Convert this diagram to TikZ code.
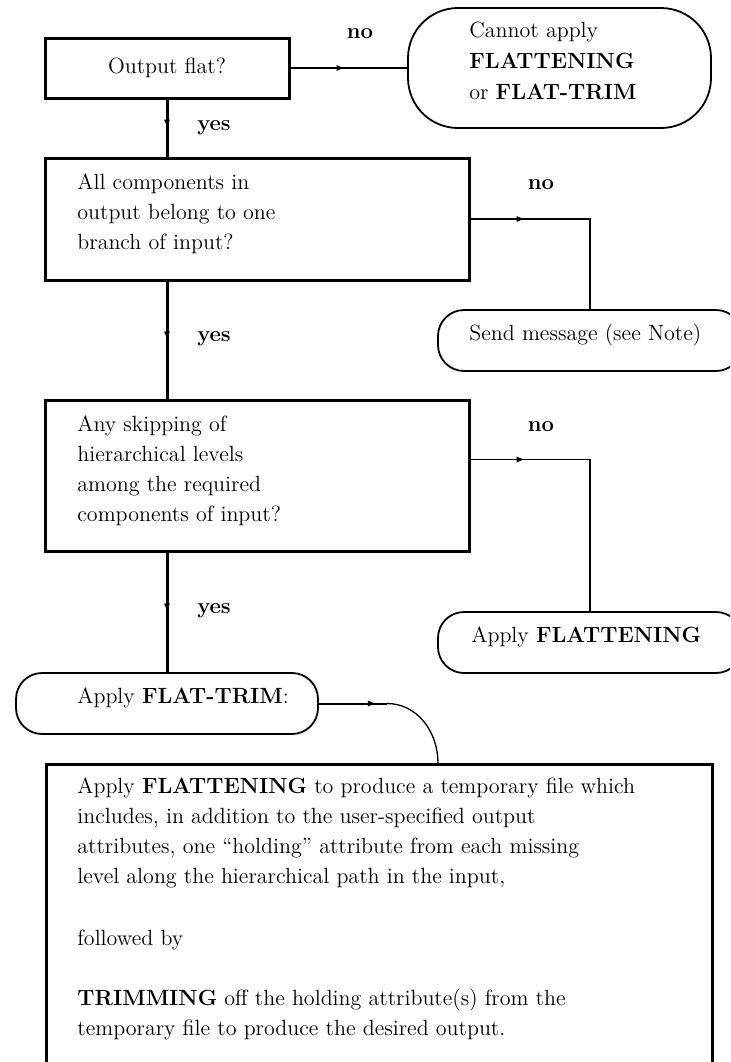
\documentclass[tikz,border=0pt]{standalone}
\usetikzlibrary{arrows.meta,decorations.markings}
\begin{document}
\begin{tikzpicture}[x=0.5pt,y=-0.5pt,
  sqbox/.style={draw, line width=1.5pt, inner sep=0pt},
  rbox/.style={draw, line width=0.9pt, inner sep=0pt},
  txt/.style={anchor=base west, align=left, inner sep=0pt, font=\fontsize{11}{15}\selectfont},
  lbl/.style={anchor=base, inner sep=0pt, font=\fontsize{11}{13}\selectfont\bfseries},
  heavy/.style={line width=1.5pt},
  medium/.style={line width=1pt},
  light/.style={line width=0.65pt},
  midarr/.style={postaction={decorate}, decoration={markings,
      mark=at position #1 with {\arrow{Latex[length=4pt,width=3.2pt]}}}}]
% page frame
\clip (0,0) rectangle (730,1062);

% decision boxes and outcome boxes (multi-line texts are placed by the baseline of their last line)
\node[sqbox, minimum width=122pt, minimum height=30pt] (q1) at (167,68) {};
\node[txt, anchor=base] (q1t) at (167,73.5) {Output flat?};

\node[rbox, rounded corners=25pt, minimum width=151.5pt, minimum height=60pt] (stop) at (559.5,68) {};
\node[txt, font=\fontsize{11}{15.5}\selectfont] (stopt) at (469,99)
  {Cannot apply\\\textbf{FLATTENING}\\or \textbf{FLAT-TRIM}};

\node[sqbox, minimum width=212pt, minimum height=61pt] (q2) at (257,219) {};
\node[txt] (q2t) at (77,249) {All components in\\output belong to one\\branch of input?};

\node[rbox, rounded corners=13pt, minimum width=152pt, minimum height=30.5pt] (msg) at (590,340.5) {};
\node[txt] (msgt) at (469,340) {Send message (see Note)};

\node[sqbox, minimum width=212pt, minimum height=75.5pt] (q3) at (257,475.5) {};
\node[txt] (q3t) at (77,521) {Any skipping of\\hierarchical levels\\among the required\\components of input?};

\node[rbox, rounded corners=13pt, minimum width=152pt, minimum height=30.5pt] (flat) at (590,642.5) {};
\node[txt] (flatt) at (471,642) {Apply \textbf{FLATTENING}};

\node[rbox, rounded corners=13pt, minimum width=151pt, minimum height=30.5pt] (trim) at (167,703.5) {};
\node[txt] (trimt) at (77,703) {Apply \textbf{FLAT-TRIM}:};

\node[sqbox, anchor=north west, minimum width=333pt, minimum height=170pt] (plan) at (45,763) {};
\node[txt] (plant) at (77,1035)
  {Apply \textbf{FLATTENING} to produce a temporary file which\\
   includes, in addition to the user-specified output\\
   attributes, one “holding” attribute from each missing\\
   level along the hierarchical path in the input,\\[16pt]
   followed by\\[15pt]
   \textbf{TRIMMING} off the holding attribute(s) from the\\
   temporary file to produce the desired output.};

% branch labels
\node[lbl] (no1) at (360,38) {no};
\node[lbl] (yes1) at (214,130) {yes};
\node[lbl] (no2) at (541,189) {no};
\node[lbl] (yes2) at (214,341) {yes};
\node[lbl] (no3) at (541,431) {no};
\node[lbl] (yes3) at (214,613) {yes};

% connectors
\draw[medium, midarr=27pt] (q1.east) -- (stop.west);
\draw[heavy, midarr=14pt] (q1.south) -- (q1.south |- q2.north);
\draw[light, midarr=27pt] (q2.east) -| (msg.north);
\draw[heavy, midarr=29pt] (q1.south |- q2.south) -- (q1.south |- q3.north);
\draw[light, midarr=27pt] ([yshift=-30.5pt]q3.north east) -| (flat.north);
\draw[heavy, midarr=29.5pt] (q1.south |- q3.south) -- (trim.north);
\coordinate (bend) at ([xshift=34pt]trim.east);
\draw[medium, midarr=28.5pt] (trim.east) -- (bend);
\draw[light] (bend) to[out=0,in=90] ([xshift=196.5pt]plan.north west);
\end{tikzpicture}
\end{document}
